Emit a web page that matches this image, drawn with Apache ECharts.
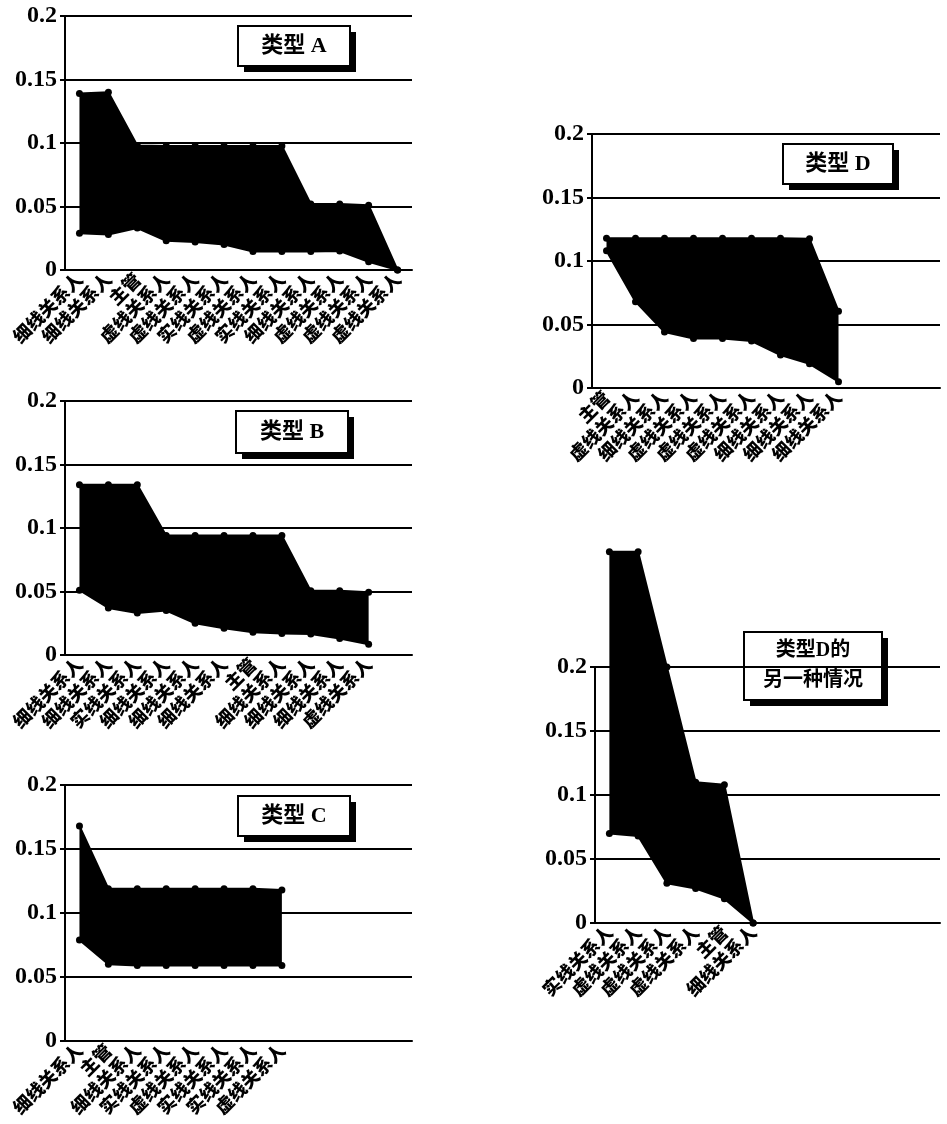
<!DOCTYPE html>
<html>
<head>
<meta charset="utf-8">
<script src="https://cdn.jsdelivr.net/npm/echarts@6/dist/echarts.min.js"></script>
<style>
  html, body { margin: 0; padding: 0; background: #fff; }
  #chart { width: 947px; height: 1124px; }
</style>
</head>
<body>
<div id="chart"></div>
<script>
// Category slots per panel (trailing slots stay empty)
const SLOTS = 12;

// Type A
const catsA = ['细线关系人', '细线关系人', '主管', '虚线关系人', '虚线关系人', '实线关系人',
               '虚线关系人', '实线关系人', '细线关系人', '虚线关系人', '虚线关系人', '虚线关系人'];
const upperA = [0.139, 0.140, 0.098, 0.0976, 0.0976, 0.0976, 0.0976, 0.0976, 0.052, 0.052, 0.051, 0];
const lowerA = [0.029, 0.028, 0.033, 0.023, 0.022, 0.020, 0.0145, 0.0145, 0.0145, 0.015, 0.0065, 0];

// Type B
const catsB = ['细线关系人', '细线关系人', '实线关系人', '细线关系人', '细线关系人', '细线关系人',
               '主管', '细线关系人', '细线关系人', '细线关系人', '虚线关系人'];
const upperB = [0.134, 0.134, 0.134, 0.094, 0.094, 0.094, 0.094, 0.094, 0.0505, 0.0505, 0.0495];
const lowerB = [0.051, 0.037, 0.033, 0.035, 0.025, 0.021, 0.018, 0.017, 0.0165, 0.013, 0.0085];

// Type C
const catsC = ['细线关系人', '主管', '细线关系人', '实线关系人', '虚线关系人', '实线关系人', '实线关系人', '虚线关系人'];
const upperC = [0.168, 0.119, 0.119, 0.119, 0.119, 0.119, 0.119, 0.118];
const lowerC = [0.079, 0.060, 0.059, 0.059, 0.059, 0.059, 0.059, 0.059];

// Type D
const catsD = ['主管', '虚线关系人', '细线关系人', '虚线关系人', '虚线关系人', '虚线关系人',
               '细线关系人', '细线关系人', '细线关系人'];
const upperD = [0.118, 0.118, 0.118, 0.118, 0.118, 0.118, 0.118, 0.1175, 0.0605];
const lowerD = [0.108, 0.068, 0.044, 0.039, 0.039, 0.037, 0.026, 0.019, 0.005];

// Type D, alternative case
const catsE = ['实线关系人', '虚线关系人', '虚线关系人', '虚线关系人', '主管', '细线关系人'];
const upperE = [0.29, 0.29, 0.20, 0.11, 0.108, 0];
const lowerE = [0.070, 0.068, 0.031, 0.027, 0.019, 0];

// Value axis
const yMin = 0, yMax = 0.2, yStep = 0.05;

const panels = [
  { cats: catsA, upper: upperA, lower: lowerA, title: '类型 A', titleSize: 22,
    grid: { left: 65, top: 16, width: 347, height: 254 },
    box: { x: 237, y: 25, w: 112, h: 40 } },
  { cats: catsB, upper: upperB, lower: lowerB, title: '类型 B', titleSize: 22,
    grid: { left: 65, top: 401, width: 347, height: 254 },
    box: { x: 235, y: 410, w: 112, h: 42 } },
  { cats: catsC, upper: upperC, lower: lowerC, title: '类型 C', titleSize: 22,
    grid: { left: 65, top: 785, width: 347, height: 256 },
    box: { x: 237, y: 795, w: 112, h: 40 } },
  { cats: catsD, upper: upperD, lower: lowerD, title: '类型 D', titleSize: 22,
    grid: { left: 592, top: 134, width: 348, height: 254 },
    box: { x: 782, y: 143, w: 110, h: 40 } },
  { cats: catsE, upper: upperE, lower: lowerE, title: '类型D的\n另一种情况', titleSize: 20,
    grid: { left: 595, top: 667, width: 345, height: 256 },
    box: { x: 743, y: 631, w: 138, h: 68 } }
];

const CJK = '"Noto Sans CJK SC"';
const SERIF = '"Liberation Serif", "DejaVu Serif", serif';

const grids = [], xAxes = [], yAxes = [], series = [], graphics = [];

panels.forEach((p, i) => {
  grids.push(Object.assign({ containLabel: false }, p.grid));

  const cats = p.cats.slice();
  while (cats.length < SLOTS) cats.push('');

  xAxes.push({
    type: 'category', gridIndex: i, data: cats, boundaryGap: true,
    axisLine: { show: true, lineStyle: { color: '#000', width: 2 } },
    axisTick: { show: false },
    axisLabel: {
      interval: 0, rotate: 45, margin: 6, color: '#000',
      fontFamily: CJK, fontWeight: 900, fontSize: 18
    }
  });

  yAxes.push({
    type: 'value', gridIndex: i, min: yMin, max: yMax, interval: yStep,
    axisLine: { show: true, lineStyle: { color: '#000', width: 2 } },
    axisTick: { show: true, length: 5, lineStyle: { color: '#000', width: 2 } },
    axisLabel: { color: '#000', fontFamily: SERIF, fontWeight: 'bold', fontSize: 24, margin: 8 },
    splitLine: { show: true, lineStyle: { color: '#000', width: 2 } }
  });

  const stackId = 'band' + i;
  // lower boundary of the band
  series.push({
    type: 'line', xAxisIndex: i, yAxisIndex: i, stack: stackId,
    data: p.lower, symbol: 'circle', symbolSize: 7, clip: false,
    lineStyle: { color: '#000', width: 2 }, itemStyle: { color: '#000' },
    z: 3
  });
  // band thickness stacked on the lower boundary, filled solid black
  series.push({
    type: 'line', xAxisIndex: i, yAxisIndex: i, stack: stackId,
    data: p.upper.map((u, k) => +(u - p.lower[k]).toFixed(5)),
    symbol: 'circle', symbolSize: 7, clip: false,
    lineStyle: { color: '#000', width: 2 }, itemStyle: { color: '#000' },
    areaStyle: { color: '#000', opacity: 1 },
    z: 2
  });

  // framed title box with a solid drop shadow
  const b = p.box;
  graphics.push({
    type: 'group', left: b.x, top: b.y, z: 100,
    children: [
      { type: 'rect', shape: { x: 6, y: 6, width: b.w, height: b.h }, style: { fill: '#000' } },
      { type: 'rect', shape: { x: 0, y: 0, width: b.w, height: b.h },
        style: { fill: '#fff', stroke: '#000', lineWidth: 2 } },
      { type: 'text', x: b.w / 2, y: b.h / 2,
        style: { text: p.title, fill: '#000', align: 'center', verticalAlign: 'middle',
                 font: 'bold ' + p.titleSize + 'px ' + SERIF + ', ' + CJK, lineHeight: 30 } }
    ]
  });
});

const chart = echarts.init(document.getElementById('chart'), null, { renderer: 'canvas' });
chart.setOption({
  animation: false,
  backgroundColor: '#fff',
  grid: grids,
  xAxis: xAxes,
  yAxis: yAxes,
  series: series,
  graphic: graphics
});
</script>
</body>
</html>
